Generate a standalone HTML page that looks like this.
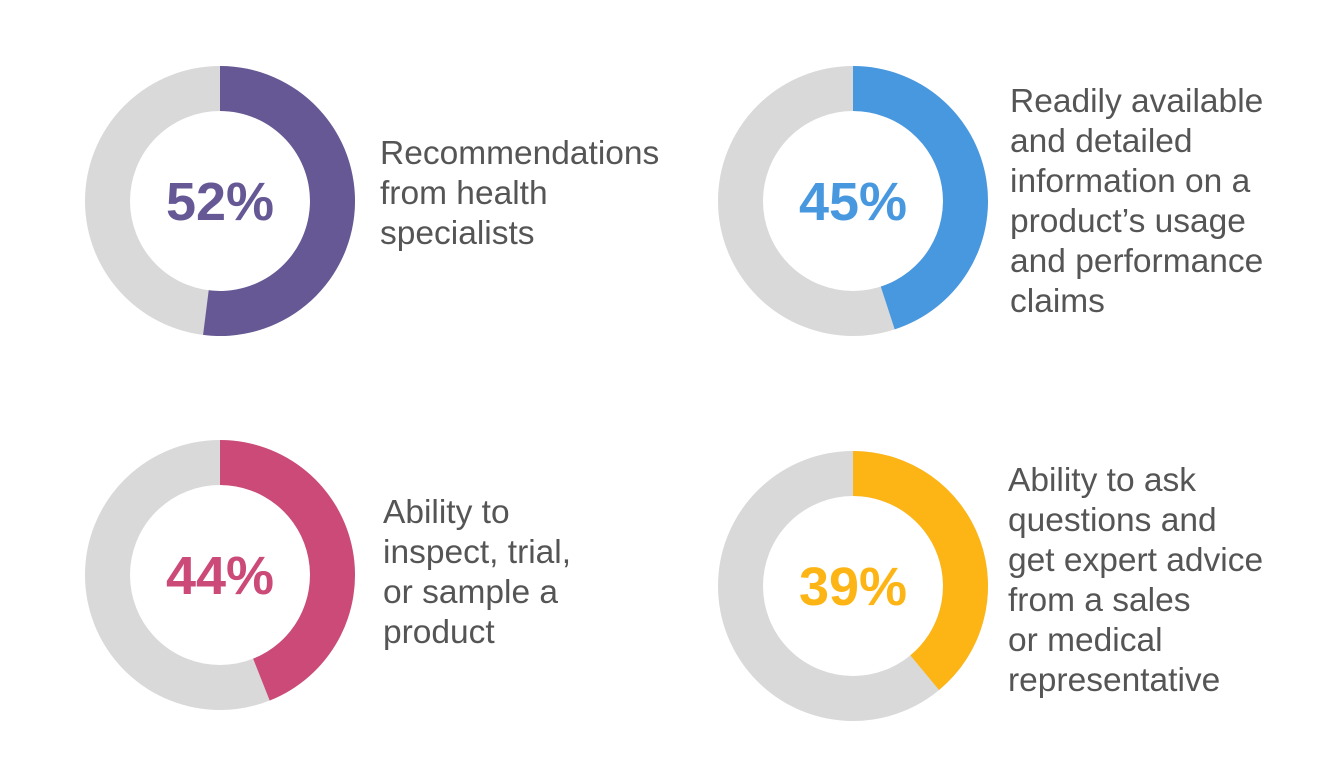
<!DOCTYPE html>
<html><head><meta charset="utf-8"><style>
html,body{margin:0;padding:0;background:#fff;}
svg{display:block;}
.lbl{font-family:"Liberation Sans",sans-serif;font-size:33.5px;fill:#555;}
.pct{font-family:"Liberation Sans",sans-serif;font-size:54px;font-weight:bold;text-anchor:middle;}
</style></head><body>
<svg id="chart" width="1334" height="776" viewBox="0 0 1334 776"></svg>
<script>
const categories = ["recommendations","information","inspect-trial","expert-advice"];
const values = [52,45,44,39];
const percentLabels = ["52%","45%","44%","39%"];
const labelLines = [
 ["Recommendations","from health","specialists"],
 ["Readily available","and detailed","information on a","product\u2019s usage","and performance","claims"],
 ["Ability to","inspect, trial,","or sample a","product"],
 ["Ability to ask","questions and","get expert advice","from a sales","or medical","representative"]
];
const colors = ["#665895","#4898E0","#CC4A78","#FDB515"];
const centers = [[220,201],[853,201],[220,575],[853,586]];
const labelPos = [[380,164],[1010,112],[383,523],[1008,491]];
const R=135, r=90, NS="http://www.w3.org/2000/svg";
const svg=document.getElementById('chart');
function pt(cx,cy,rad,a){return [cx+rad*Math.sin(a), cy-rad*Math.cos(a)];}
values.forEach((v,i)=>{
  const [cx,cy]=centers[i];
  const g=document.createElementNS(NS,'g');
  
  
  const bg=document.createElementNS(NS,'circle');
  bg.setAttribute('cx',cx);bg.setAttribute('cy',cy);bg.setAttribute('r',(R+r)/2);
  bg.setAttribute('fill','none');bg.setAttribute('stroke','#D9D9D9');bg.setAttribute('stroke-width',R-r);
  
  
  g.appendChild(bg);
  const a=v/100*2*Math.PI, large=v>50?1:0;
  const p1=pt(cx,cy,R,0),p2=pt(cx,cy,R,a),p3=pt(cx,cy,r,a),p4=pt(cx,cy,r,0);
  const path=document.createElementNS(NS,'path');
  path.setAttribute('d',`M${p1} A${R},${R} 0 ${large} 1 ${p2} L${p3} A${r},${r} 0 ${large} 0 ${p4} Z`);
  path.setAttribute('fill',colors[i]);
  
  
  g.appendChild(path);
  const t=document.createElementNS(NS,'text');
  t.setAttribute('x',cx);t.setAttribute('y',cy+19);t.setAttribute('class','pct');t.setAttribute('fill',colors[i]);
  t.textContent=percentLabels[i];
  
  
  g.appendChild(t);
  const lt=document.createElementNS(NS,'text');
  lt.setAttribute('class','lbl');
  
  
  labelLines[i].forEach((line,j)=>{
    const ts=document.createElementNS(NS,'tspan');
    ts.setAttribute('x',labelPos[i][0]);ts.setAttribute('y',labelPos[i][1]+j*40);
    ts.textContent=line;lt.appendChild(ts);
  });
  g.appendChild(lt);
  svg.appendChild(g);
});
</script>
</body></html>
